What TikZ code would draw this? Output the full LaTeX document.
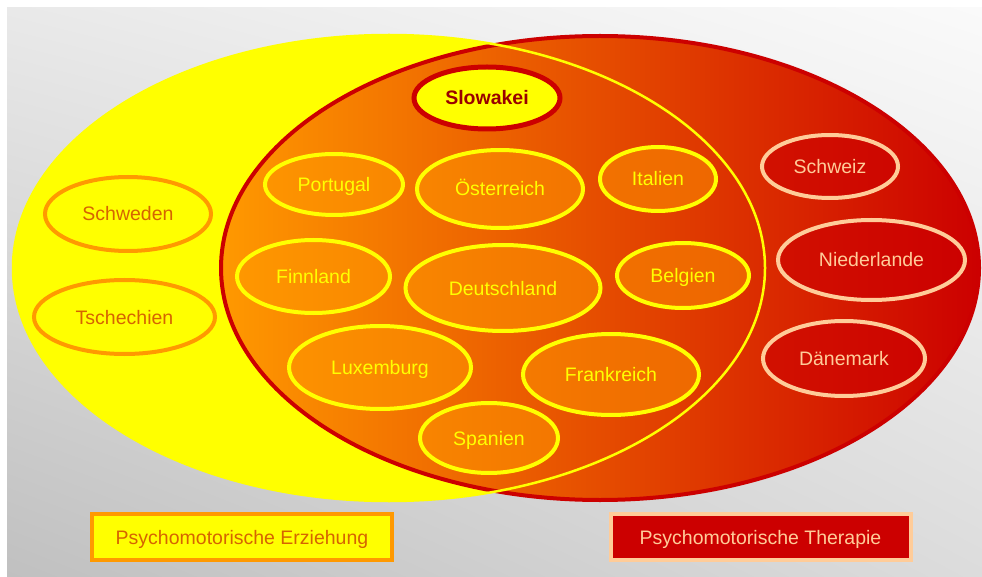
\documentclass[tikz,border=0pt]{standalone}
\usepackage{fontspec}
\setmainfont{Liberation Sans}
\usetikzlibrary{shapes.geometric, shadings}

\definecolor{vgelb}{RGB}{255,255,0}
\definecolor{vorange}{RGB}{255,153,0}
\definecolor{vmitte}{RGB}{230,110,0}
\definecolor{vrot}{RGB}{204,0,0}
\definecolor{vdunkelrot}{RGB}{153,0,0}
\definecolor{vbraun}{RGB}{214,100,0}
\definecolor{vpfirsich}{RGB}{255,204,153}
\definecolor{hgol}{RGB}{233,233,233}
\definecolor{hgor}{RGB}{250,250,250}
\definecolor{hgul}{RGB}{192,192,192}
\definecolor{hgur}{RGB}{220,220,220}

\tikzset{
  land/.style     = {ellipse, line width=4pt, inner sep=0pt,
                     text height=14pt, text depth=0pt,
                     font=\fontsize{19.5}{23}\selectfont},
  beide/.style    = {land, draw=vgelb, fill=vorange, fill opacity=0.5,
                     text opacity=1, text=vgelb},
  erzland/.style  = {land, draw=vorange, fill=vgelb, text=vbraun},
  therland/.style = {land, draw=vpfirsich, fill=vrot, fill opacity=0.6,
                     text opacity=1, text=vpfirsich},
  legende/.style  = {rectangle, line width=4pt, minimum width=300pt,
                     minimum height=46pt, text height=14pt, text depth=0pt,
                     font=\fontsize{19.5}{23}\selectfont},
}

\begin{document}
\begin{tikzpicture}[x=1pt, y=-1pt]
  \useasboundingbox (0,0) rectangle (982,577);
  \shade[upper left=hgol, upper right=hgor, lower left=hgul, lower right=hgur]
    (7,8) rectangle (982,577);

  % the two sets
  \node[ellipse, fill=vgelb, minimum width=752pt, minimum height=466pt]
    (erziehung) at (389,268) {};
  \node[ellipse, draw=vrot, line width=4pt, left color=vorange,
        middle color=vmitte, right color=vrot,
        minimum width=758pt, minimum height=464pt]
    (therapie) at (600,268) {};
  \node[ellipse, draw=vgelb, line width=2.5pt,
        minimum width=752pt, minimum height=466pt]
    (erzrand) at (389,268) {};

  % both
  \node[land, draw=vrot, line width=5pt, fill=vgelb, text=vdunkelrot,
        font=\fontsize{19.5}{23}\selectfont\bfseries,
        minimum width=146pt, minimum height=62pt]
    (slowakei) at (487,98) {Slowakei};
  \node[beide, minimum width=138pt, minimum height=61pt]
    (portugal) at (334,184.5) {Portugal};
  \node[beide, minimum width=166pt, minimum height=78pt]
    (oesterreich) at (500,189) {Österreich};
  \node[beide, minimum width=116pt, minimum height=64pt]
    (italien) at (658,179) {Italien};
  \node[beide, minimum width=153pt, minimum height=73pt]
    (finnland) at (313.5,276.5) {Finnland};
  \node[beide, minimum width=195pt, minimum height=86pt]
    (deutschland) at (503,288) {Deutschland};
  \node[beide, minimum width=132pt, minimum height=65pt]
    (belgien) at (683,275.5) {Belgien};
  \node[beide, minimum width=182pt, minimum height=83pt]
    (luxemburg) at (380,367.5) {Luxemburg};
  \node[beide, minimum width=176pt, minimum height=81pt]
    (frankreich) at (611,374.5) {Frankreich};
  \node[beide, minimum width=138pt, minimum height=70pt]
    (spanien) at (489,438) {Spanien};

  % only education
  \node[erzland, minimum width=166pt, minimum height=74pt]
    (schweden) at (128,214) {Schweden};
  \node[erzland, minimum width=181pt, minimum height=74pt]
    (tschechien) at (124.5,317) {Tschechien};

  % only therapy
  \node[therland, minimum width=136pt, minimum height=63pt]
    (schweiz) at (830,166.5) {Schweiz};
  \node[therland, minimum width=187pt, minimum height=80pt]
    (niederlande) at (871.5,260) {Niederlande};
  \node[therland, minimum width=162pt, minimum height=75pt]
    (daenemark) at (844,358.5) {Dänemark};

  \node[legende, draw=vorange, fill=vgelb, text=vbraun]
    (erzlegende) at (242,537) {Psychomotorische Erziehung};
  \node[legende, draw=vpfirsich, fill=vrot, text=vpfirsich]
    (therlegende) at (760.5,537) {Psychomotorische Therapie};
\end{tikzpicture}
\end{document}
